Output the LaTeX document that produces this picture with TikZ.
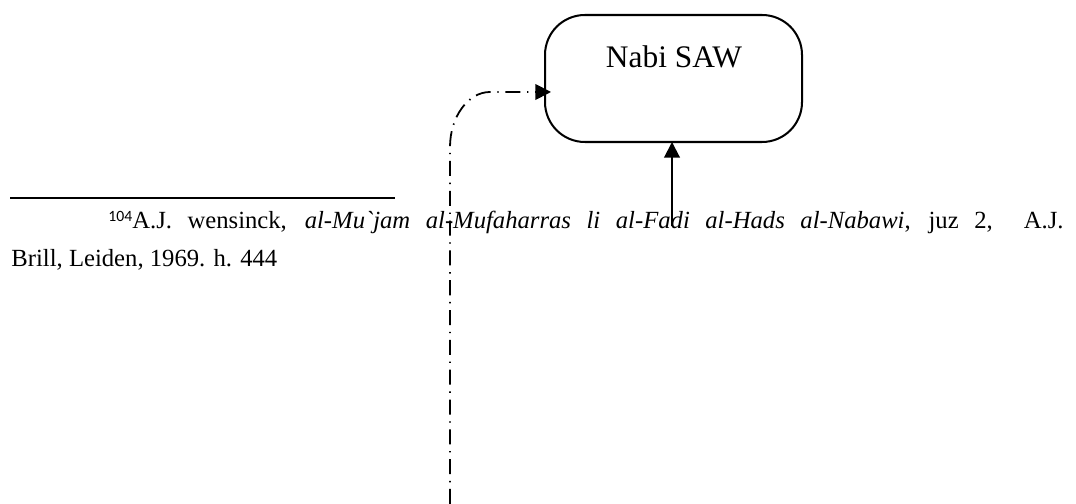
\documentclass[tikz,border=0pt]{standalone}
\usepackage{fontspec}
\defaultfontfeatures[\rmfamily]{}
\setmainfont{Liberation Serif}
\newfontfamily\notefont{Carlito}
\usetikzlibrary{arrows.meta}
\begin{document}
\begin{tikzpicture}[x=0.446pt,y=-0.446pt,
  rounded box/.style={draw,line width=0.9pt,rounded corners=17.8pt},
  main arrow/.style={line width=0.9pt,-{Triangle[length=7pt,width=7pt]}},
  dashdot arrow/.style={line width=0.8pt,dash pattern=on 6.7pt off 3pt on 0.6pt off 3pt,
    -{Triangle[length=7pt,width=7pt]}},
  note/.style={inner sep=0pt,font=\fontsize{11pt}{13pt}\selectfont}]
  \useasboundingbox (0,0) rectangle (1076,504);

  % the rounded box and its label
  \draw[rounded box] (545,15) rectangle (802,142);
  \coordinate (boxbottom) at (672,142);
  \coordinate (boxleft) at (551,92);
  \node[font=\fontsize{14pt}{16pt}\selectfont,inner sep=0pt,anchor=base] (nabi) at (674,68) {Nabi SAW};

  % footnote separator and footnote text
  \coordinate (ruleL) at (10,198);
  \coordinate (ruleR) at (395,198);
  \draw[line width=0.9pt] (ruleL) -- (ruleR);
  \node[note,anchor=base west] (fn1) at (108,229)
    {\makebox[426pt][s]{\raisebox{3.4pt}{\notefont\fontsize{7pt}{8pt}\selectfont 104}A.J. wensinck, \textit{al-Mu`jam al-Mufaharras li al-Fadi al-Hads al-Nabawi}, juz 2,\ \ A.J.}};
  \node[note,anchor=base west] (fn2) at (11,267) {Brill, Leiden, 1969. h. 444};

  % solid arrow into the bottom of the box
  \coordinate (solidstart) at (672,226);
  \draw[main arrow] (solidstart) -- (boxbottom);

  % dash-dot arrow rising from the bottom edge and bending into the box
  \coordinate (dashstart) at (450,504);
  \draw[dashdot arrow] (dashstart) -- (450,147)
    .. controls (450,117) and (468,92) .. (490,92) -- (boxleft);
\end{tikzpicture}
\end{document}
